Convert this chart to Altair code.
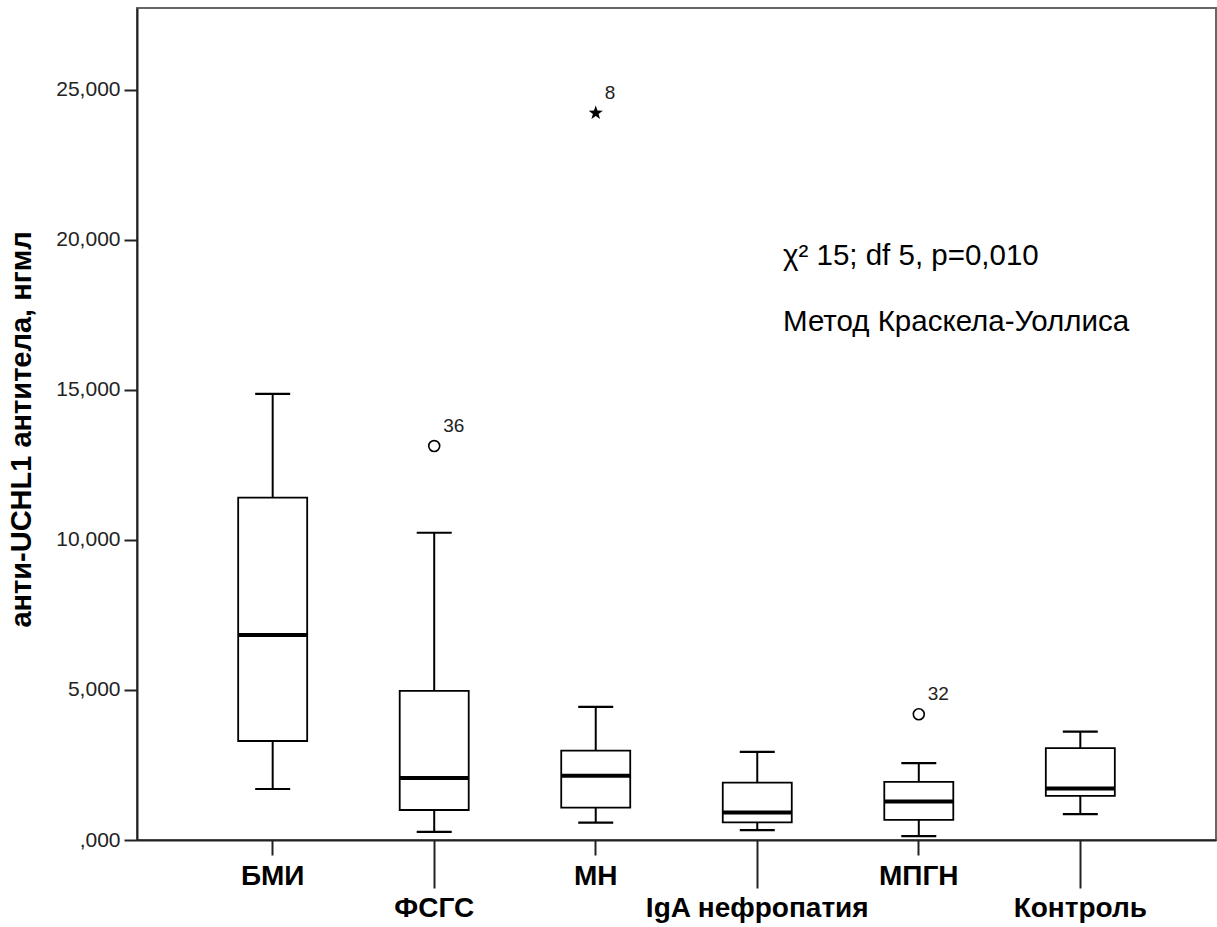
import altair as alt
import pandas as pd

# Kruskal-Wallis comparison of anti-UCHL1 antibody levels by diagnosis group
groups = ["БМИ", "ФСГС", "МН", "IgA нефропатия", "МПГН", "Контроль"]
whisker_low = [1.70, 0.27, 0.58, 0.33, 0.13, 0.86]
q1 = [3.30, 1.00, 1.08, 0.59, 0.67, 1.47]
median = [6.83, 2.07, 2.14, 0.92, 1.28, 1.72]
q3 = [11.41, 4.97, 2.98, 1.91, 1.94, 3.06]
whisker_high = [14.87, 10.24, 4.44, 2.94, 2.56, 3.61]

outlier_group = ["ФСГС", "МН", "МПГН"]
outlier_value = [13.13, 24.23, 4.19]
outlier_case = ["36", "8", "32"]
outlier_kind = ["mild", "extreme", "mild"]

lower_row = ["ФСГС", "IgA нефропатия", "Контроль"]
y_ticks = [0, 5, 10, 15, 20, 25]
y_max = 27.73

FONT = "Liberation Sans"

boxes = pd.DataFrame({
    "group": groups, "lo": whisker_low, "q1": q1, "med": median,
    "q3": q3, "hi": whisker_high,
})
outliers = pd.DataFrame({
    "group": outlier_group, "value": outlier_value,
    "case": outlier_case, "kind": outlier_kind,
})

in_lower = "indexof(" + str(lower_row) + ", datum.value) >= 0"

x_enc = alt.X(
    "group:N",
    sort=groups,
    scale=alt.Scale(type="band", paddingInner=0, paddingOuter=0.34),
    axis=alt.Axis(
        title=None,
        labelAngle=0,
        labelFont=FONT,
        labelFontSize=28,
        labelFontWeight="bold",
        labelColor="#000000",
        labelBaseline="top",
        labelLimit=0,
        tickColor="#222222",
        tickWidth=2,
        tickSize={"condition": {"test": in_lower, "value": 48}, "value": 15},
        labelPadding={"condition": {"test": in_lower, "value": 6}, "value": 7},
        domainColor="#222222",
        domainWidth=2,
    ),
)

y_scale = alt.Scale(domain=[0, y_max], nice=False, zero=True)
y_axis = alt.Axis(
    title="анти-UCHL1 антитела, нгмл",
    titleFont=FONT,
    titleFontSize=29,
    titleFontWeight="bold",
    titleColor="#000000",
    titleX=-116,
    titleY=421,
    titleBaseline="middle",
    titleAlign="center",
    titleAngle=-90,
    values=y_ticks,
    labelExpr="datum.value == 0 ? ',000' : replace(format(datum.value, '.3f'), '.', ',')",
    labelFont=FONT,
    labelFontSize=21,
    labelColor="#222222",
    labelPadding=4,
    tickSize=13,
    tickWidth=2,
    tickColor="#222222",
    domainColor="#222222",
    domainWidth=2,
    grid=False,
)

base = alt.Chart(boxes)
xg = alt.X("group:N", sort=groups)

whisker_lower = base.mark_rule(color="#000000", strokeWidth=2).encode(
    x=x_enc, y=alt.Y("lo:Q", scale=y_scale, axis=y_axis), y2="q1:Q"
)
whisker_upper = base.mark_rule(color="#000000", strokeWidth=2).encode(
    x=xg, y="q3:Q", y2="hi:Q"
)
cap_low = base.mark_tick(color="#000000", size=35, thickness=2.2, opacity=1).encode(
    x=xg, y="lo:Q"
)
cap_high = base.mark_tick(color="#000000", size=35, thickness=2.2, opacity=1).encode(
    x=xg, y="hi:Q"
)
box = base.mark_bar(
    size=69, fill="#ffffff", stroke="#000000", strokeWidth=1.8, opacity=1
).encode(x=xg, y="q1:Q", y2="q3:Q")
med = base.mark_tick(color="#000000", size=69, thickness=4, opacity=1).encode(
    x=xg, y="med:Q"
)

mild = alt.Chart(outliers).transform_filter("datum.kind == 'mild'").mark_point(
    shape="circle", size=120, filled=False, color="#000000", strokeWidth=1.6,
    opacity=1,
).encode(x=xg, y="value:Q")

star_path = (
    "M0,-1L0.235,-0.324L0.951,-0.309L0.38,0.124L0.588,0.809L0,0.4"
    "L-0.588,0.809L-0.38,0.124L-0.951,-0.309L-0.235,-0.324Z"
)
extreme = alt.Chart(outliers).transform_filter("datum.kind == 'extreme'").mark_point(
    shape=star_path, size=220, filled=True, color="#000000", opacity=1
).encode(x=xg, y="value:Q")

case_labels = alt.Chart(outliers).mark_text(
    font=FONT, fontSize=19, align="left", baseline="middle", dx=9, dy=-20,
    color="#222222",
).encode(x=xg, y="value:Q", text="case:N")

note_lines = pd.DataFrame({
    "line": ["χ² 15; df 5, p=0,010", "Метод Краскела-Уоллиса"],
    "ypos": [257, 323],
})
notes = alt.Chart(note_lines).mark_text(
    font=FONT, fontSize=29.5, align="left", baseline="alphabetic", color="#000000"
).encode(x=alt.value(646), y=alt.Y("ypos:Q", scale=None), text="line:N")

chart = alt.layer(
    whisker_lower, whisker_upper, cap_low, cap_high, box, med,
    mild, extreme, case_labels, notes,
).properties(
    width=1079,
    height=832,
    autosize=alt.AutoSizeParams(type="none"),
    padding={"left": 137, "top": 8, "right": 1, "bottom": 87},
    background="#ffffff",
).configure_view(stroke="#666666", strokeWidth=2)

chart.save("out.html", embed_options={"renderer": "svg", "actions": False})
